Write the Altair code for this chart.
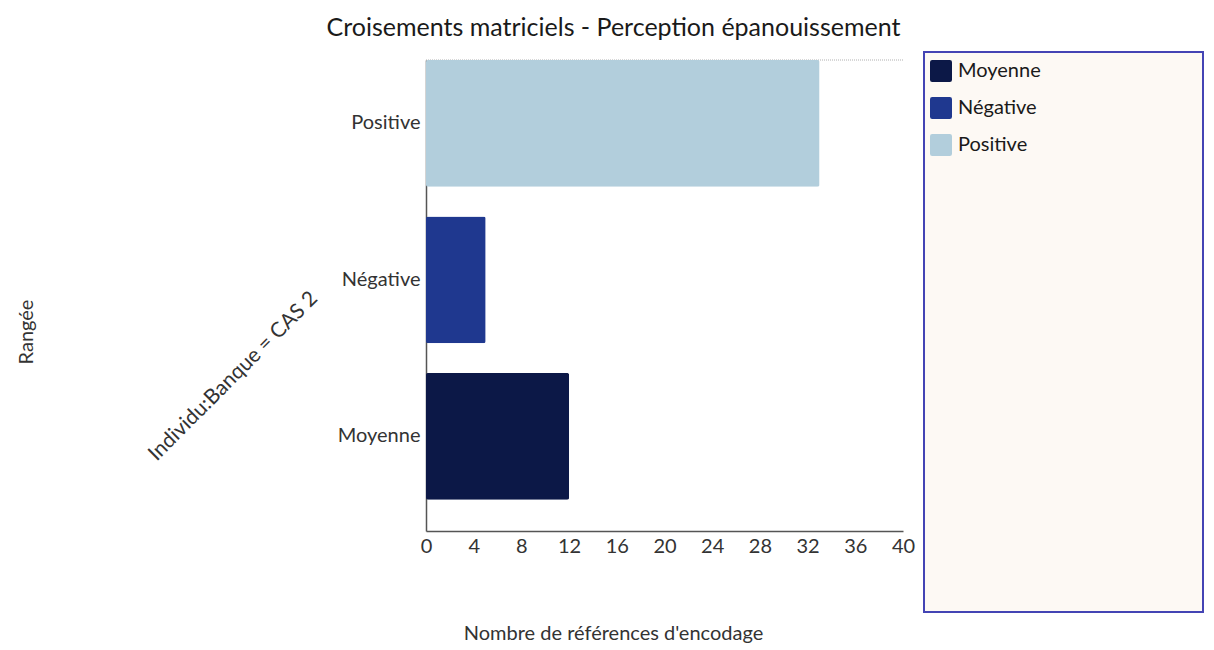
import altair as alt
import pandas as pd

# ---- data ----
categories = ["Positive", "Négative", "Moyenne"]
values = [33, 5, 12]
row_label = "Individu:Banque = CAS 2"
legend_order = ["Moyenne", "Négative", "Positive"]
colors = ["#0c1847", "#1f388f", "#b2cedc"]
x_ticks = [0, 4, 8, 12, 16, 20, 24, 28, 32, 36, 40]

df = pd.DataFrame({
    "Catégorie": categories,
    "Valeur": values,
    "Rangée": [row_label] * len(categories),
})

FONT = "Lato"
W, H = 477, 471
TXT = "#333333"
FS = 20

rounded_sq = ("M-0.8,-1 L0.8,-1 Q1,-1 1,-0.8 L1,0.8 Q1,1 0.8,1 L-0.8,1 "
              "Q-1,1 -1,0.8 L-1,-0.8 Q-1,-1 -0.8,-1 Z")

box = alt.Chart().mark_rect(fill="#fdf9f4", stroke="#4444b4", strokeWidth=2).encode(
    x=alt.value(498), x2=alt.value(777), y=alt.value(-8), y2=alt.value(552)
).transform_filter(alt.datum["Catégorie"] == "Positive")

top_rule = alt.Chart().mark_rule(color="#b0b0b0", strokeDash=[1, 1], strokeWidth=1).encode(
    x=alt.value(0), x2=alt.value(W), y=alt.value(0)
).transform_filter(alt.datum["Catégorie"] == "Positive")

bars = alt.Chart().mark_bar(cornerRadius=2).encode(
    x=alt.X("Valeur:Q",
            scale=alt.Scale(domain=[0, 40], nice=False),
            axis=alt.Axis(values=x_ticks, title="Nombre de références d'encodage",
                          grid=False, ticks=False, labelPadding=5, labelFlush=False,
                          titleX=187, titleY=102, titleBaseline="middle",
                          titleAnchor="middle", titleAlign="center")),
    y=alt.Y("Catégorie:N", sort=categories,
            scale=alt.Scale(paddingInner=0.19, paddingOuter=0.1, align=0),
            axis=alt.Axis(title=None, ticks=False, labelPadding=6)),
    color=alt.Color("Catégorie:N",
                    scale=alt.Scale(domain=legend_order, range=colors),
                    legend=alt.Legend(orient="none", legendX=504, legendY=0,
                                      title=None, symbolType=rounded_sq,
                                      symbolSize=484, symbolStrokeWidth=0,
                                      symbolOpacity=1,
                                      labelFont=FONT, labelFontSize=FS,
                                      labelColor="#1a1a1a", labelOffset=6,
                                      rowPadding=15, padding=0)),
)

chart = alt.layer(box, top_rule, bars, data=df).properties(width=W, height=H).facet(
    row=alt.Row("Rangée:N", header=alt.Header(
        title="Rangée", titleAngle=270, titleFont=FONT, titleFontSize=FS,
        titleFontWeight="normal", titleColor=TXT, titlePadding=77,
        labelAngle=315, labelAlign="right", labelBaseline="middle",
        labelFont=FONT, labelFontSize=21, labelColor=TXT, labelPadding=-154)),
    bounds="flush", spacing=0,
).properties(
    title=alt.TitleParams("Croisements matriciels - Perception épanouissement",
                          font=FONT, fontSize=25, fontWeight="normal",
                          color="#1a1a1a", anchor="middle", dx=3, offset=10),
    padding={"left": 9, "top": 8, "right": 0, "bottom": 0},
).configure_view(stroke=None).configure_axis(
    labelFont=FONT, labelFontSize=FS, labelColor=TXT,
    titleFont=FONT, titleFontSize=FS, titleFontWeight="normal", titleColor=TXT,
    domainColor="#555555", domainWidth=1.5,
)

chart.save("out.html", embed_options={"renderer": "svg", "actions": False})
